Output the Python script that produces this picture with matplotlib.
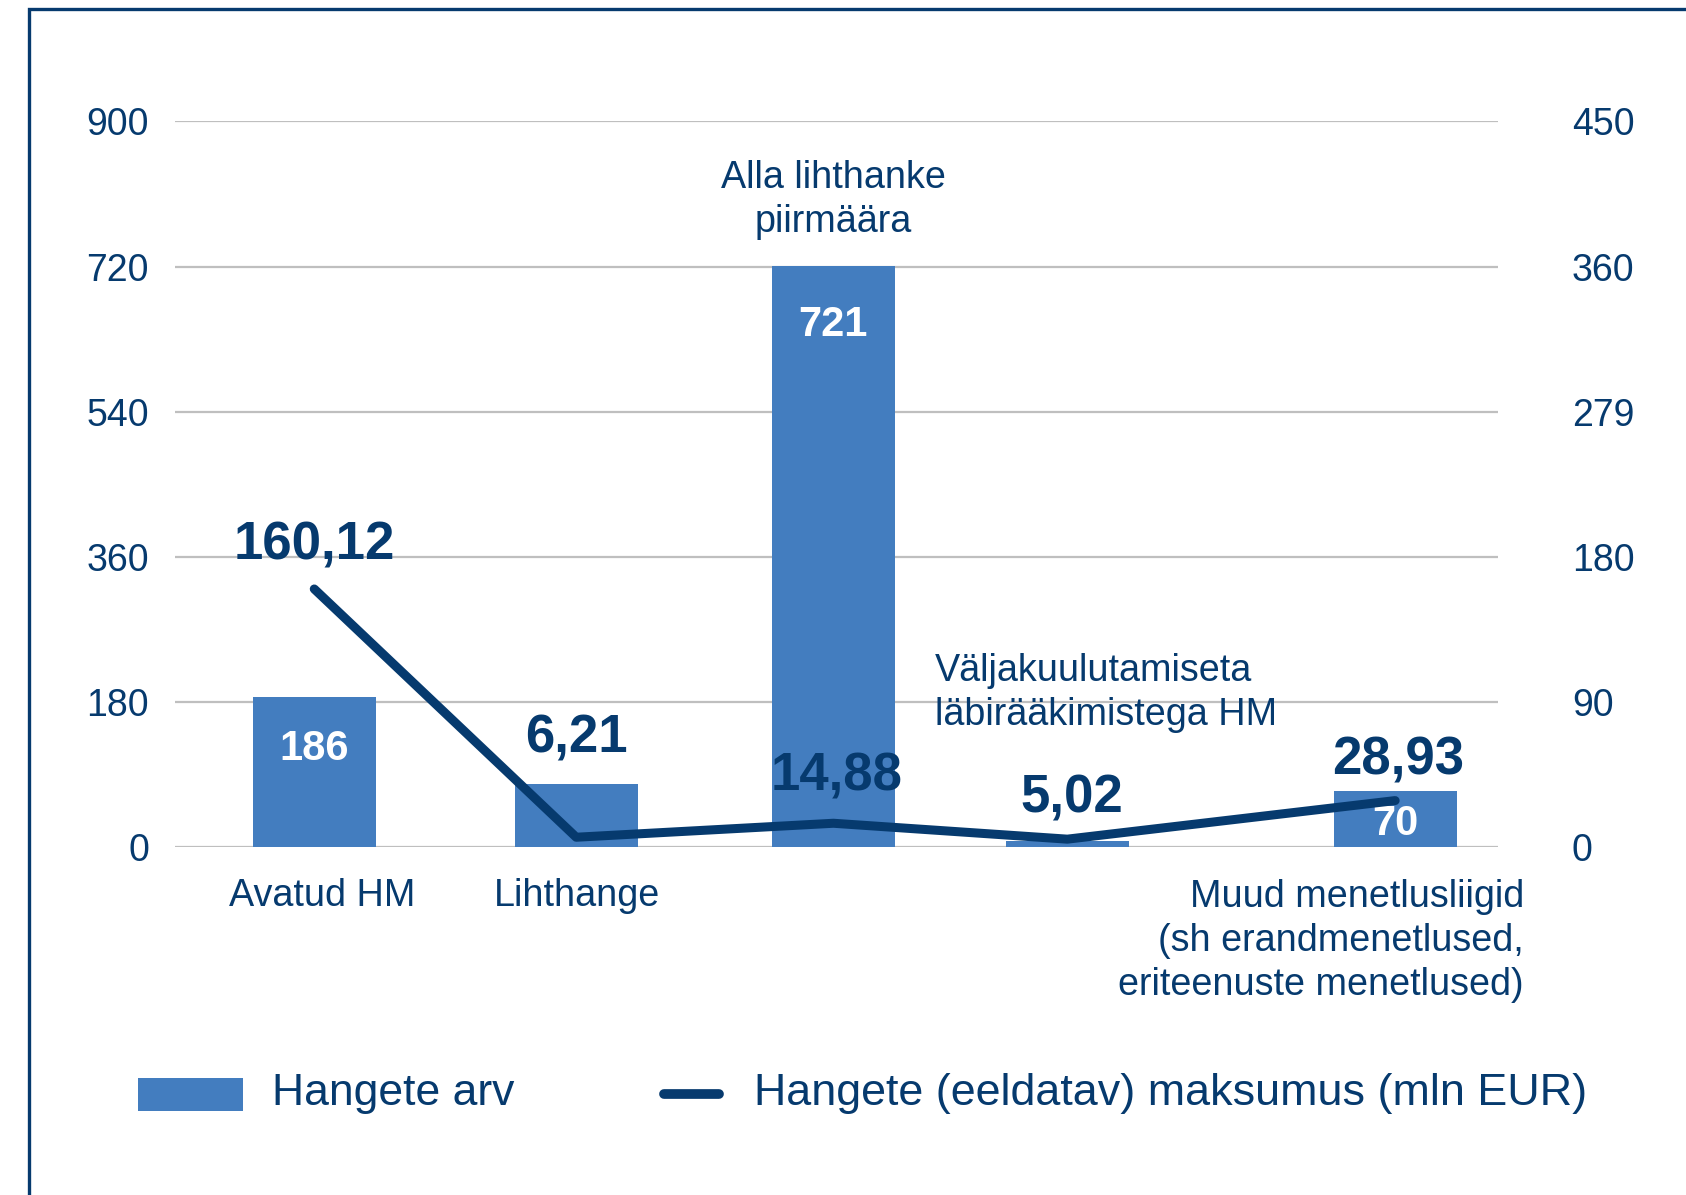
import numpy as np
import matplotlib
matplotlib.use('Agg')
import matplotlib.pyplot as plt
from matplotlib.patches import Rectangle
from matplotlib.lines import Line2D

plt.rcParams['font.family'] = ['Liberation Sans', 'DejaVu Sans']

# data
categories = ['Avatud HM', 'Lihthange', 'Alla lihthanke\npiirmäära',
              'Väljakuulutamiseta\nläbirääkimistega HM',
              'Muud menetlusliigid\n(sh erandmenetlused,\neriteenuste menetlused)']
counts = [186, 78, 721, 8, 70]                          # Hangete arv (bars, left axis)
count_labels = ['186', '', '721', '', '70']
values = [160.12, 6.21, 14.88, 5.02, 28.93]             # maksumus mln EUR (line, right axis)
value_labels = ['160,12', '6,21', '14,88', '5,02', '28,93']
left_ticks = [0, 180, 360, 540, 720, 900]
right_ticks = [0, 90, 180, 270, 360, 450]
right_tick_labels = ['0', '90', '180', '279', '360', '450']

# layout (category positions are not evenly spaced in the original)
xpos = [0.025, 1.015, 1.987, 2.871, 4.11]
bar_w = 0.465
bar_lab_off = [-37, 0, -43, 0, -24]     # points, from bar top
val_lab_off = [(0, 31), (0, 71), (2, 34), (3.5, 29), (2, 29)]

NAVY = '#063a6e'
BLUE = '#437dbf'
GRID = '#bfbfbf'

fig = plt.figure(figsize=(16.86, 11.95), dpi=100)
ax = fig.add_axes([0.1040, 0.2910, 0.7847, 0.6074])
ax2 = ax.twinx()

# bars
bars = ax.bar(xpos, counts, width=bar_w, color=BLUE, zorder=2)
for b, lab, off in zip(bars, count_labels, bar_lab_off):
    if lab:
        ax.annotate(lab, (b.get_x() + b.get_width() / 2, b.get_height()),
                    xytext=(0, off), textcoords='offset points',
                    ha='center', va='center', color='white',
                    fontsize=30, fontweight='bold', zorder=3)

ax.set_xlim(-0.5, 4.5)
ax.set_ylim(0, 900)
ax.set_yticks(left_ticks)
ax.set_yticklabels([str(t) for t in left_ticks])
ax.yaxis.grid(True, color=GRID, lw=1.6, zorder=0)
ax.set_axisbelow(True)
ax.set_xticks([])
ax.tick_params(axis='y', length=0, pad=19, labelsize=27, labelcolor=NAVY)
for lab in ax.get_yticklabels():
    lab.set_verticalalignment('center_baseline')
for s in ax.spines.values():
    s.set_visible(False)

# line on secondary axis
ax2.plot(xpos, values, color=NAVY, lw=6.5, solid_capstyle='round',
         solid_joinstyle='round', zorder=4)
for x, v, lab, off in zip(xpos, values, value_labels, val_lab_off):
    ax2.annotate(lab, (x, v), xytext=off, textcoords='offset points',
                 ha='center', va='center', color=NAVY,
                 fontsize=38, fontweight='bold', zorder=5)
ax2.set_ylim(0, 450)
ax2.set_yticks(right_ticks)
ax2.set_yticklabels(right_tick_labels)
ax2.tick_params(axis='y', length=0, pad=53, labelsize=27, labelcolor=NAVY)
for lab in ax2.get_yticklabels():
    lab.set_horizontalalignment('left')
    lab.set_verticalalignment('center_baseline')
for s in ax2.spines.values():
    s.set_visible(False)

# category labels, placed as in the original
W, H = 1686.0, 1195.0
cat_xy = [(322, 896, 'center'), (577, 896, 'center'), (833, 200, 'center'),
          (935, 693, 'left'), (1524, 941, 'right')]
for name, (px, py, ha) in zip(categories, cat_xy):
    fig.text(px / W, 1 - py / H, name, ha=ha, va='center', color=NAVY,
             fontsize=27.2, linespacing=1.28, multialignment=ha)

# legend drawn by hand
fig.add_artist(Rectangle((138 / W, 1 - 1111 / H), 105 / W, 33 / H,
                         facecolor=BLUE, edgecolor='none',
                         transform=fig.transFigure))
fig.text(272 / W, 1 - 1094 / H, 'Hangete arv', ha='left', va='center',
         color=NAVY, fontsize=32)
fig.add_artist(Line2D([664 / W, 719 / W], [1 - 1094 / H, 1 - 1094 / H],
                      color=NAVY, lw=7, solid_capstyle='round',
                      transform=fig.transFigure))
fig.text(754 / W, 1 - 1094 / H, 'Hangete (eeldatav) maksumus (mln EUR)',
         ha='left', va='center', color=NAVY, fontsize=32.3)

# outer frame (open at right/bottom edge of the image)
fig.add_artist(Rectangle((29 / W, -0.1), 1.2, 1 - 9.5 / H + 0.1,
                         fill=False, edgecolor=NAVY, lw=2.4,
                         transform=fig.transFigure))

fig.savefig('out.png', dpi=100)
